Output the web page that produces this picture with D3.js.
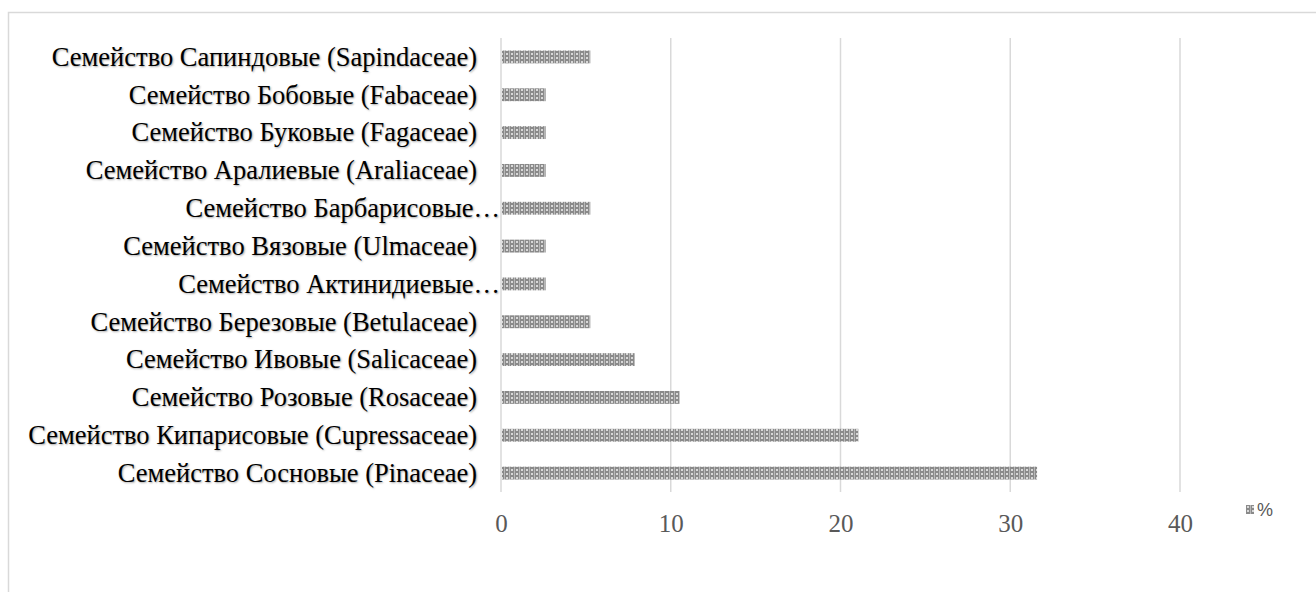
<!DOCTYPE html>
<html>
<head>
<meta charset="utf-8">
<script src="https://cdn.jsdelivr.net/npm/d3@7"></script>
<style>
  body { margin: 0; background: #fff; }
  .cat text { font-family: "Liberation Serif", "Times New Roman", serif; font-size: 26.5px; fill: #000;
              text-shadow: 1px 1px 2px rgba(0,0,0,0.35); }
  .xax text { font-family: "Liberation Serif", "Times New Roman", serif; font-size: 25px; fill: #595959; }
</style>
</head>
<body>
<svg class="grafico" width="1316" height="592"></svg>
<script>
// categorias de baixo para cima (como no Excel)
const categorias = [
  'Семейство Сосновые (Pinaceae)',
  'Семейство Кипарисовые (Cupressaceae)',
  'Семейство Розовые (Rosaceae)',
  'Семейство Ивовые (Salicaceae)',
  'Семейство Березовые (Betulaceae)',
  'Семейство Актинидиевые…',
  'Семейство Вязовые (Ulmaceae)',
  'Семейство Барбарисовые…',
  'Семейство Аралиевые (Araliaceae)',
  'Семейство Буковые (Fagaceae)',
  'Семейство Бобовые (Fabaceae)',
  'Семейство Сапиндовые (Sapindaceae)'
];
const valores = [31.58, 21.05, 10.53, 7.89, 5.26, 2.63, 2.63, 5.26, 2.63, 2.63, 2.63, 5.26];
const TICKS = [0, 10, 20, 30, 40];
const SERIE = '%';

const $svg = d3.select('.grafico');

const M = { left: 501, top: 38, right: 1180, bottom: 492 };

// moldura do gráfico
$svg.append('rect')
  .attr('x', 8.5).attr('y', 12.5)
  .attr('width', 1320).attr('height', 600)
  .attr('fill', 'none').attr('stroke', '#d9d9d9').attr('stroke-width', 1.5);

// padrão hachurado das barras
const defs = $svg.append('defs');
const pat = defs.append('pattern')
  .attr('id', 'xadrez').attr('patternUnits', 'userSpaceOnUse')
  .attr('width', 5).attr('height', 4);
pat.append('rect').attr('width', 5).attr('height', 4).attr('fill', '#8a8a8a');
pat.append('rect').attr('x', 1).attr('y', 1).attr('width', 2).attr('height', 2).attr('fill', '#d8d8d8');
pat.append('rect').attr('x', 4).attr('y', 0).attr('width', 1).attr('height', 4).attr('fill', '#b8b8b8');

const x = d3.scaleLinear().domain([0, 40]).range([M.left, M.right]);
const y = d3.scaleBand()
  .domain(categorias.slice().reverse())
  .range([M.top, M.bottom])
  .paddingInner(0.66).paddingOuter(0.33);

// linhas de grade
$svg.append('g')
  .selectAll('line')
  .data(TICKS)
  .join('line')
  .attr('x1', d => x(d)).attr('x2', d => x(d))
  .attr('y1', M.top).attr('y2', M.bottom)
  .attr('stroke', '#d9d9d9').attr('stroke-width', 1.5);

// barras
$svg.append('g')
  .selectAll('rect')
  .data(categorias.map((c, i) => ({ c, v: valores[i] })))
  .join('rect')
  .attr('x', x(0) + 1)
  .attr('y', d => y(d.c))
  .attr('width', d => x(d.v) - x(0) - 1)
  .attr('height', y.bandwidth())
  .attr('fill', 'url(#xadrez)');

// eixo das categorias
const gy = $svg.append('g').attr('class', 'cat')
  .attr('transform', `translate(${M.left},0)`)
  .call(d3.axisLeft(y).tickSize(0).tickPadding(24));
gy.select('.domain').remove();
gy.selectAll('text').attr('dy', '0.33em');
// rótulos cortados com reticências encostam na barra, como no original
gy.selectAll('text').filter(d => d.endsWith('…')).attr('x', -1);

// eixo x
const gx = $svg.append('g').attr('class', 'xax')
  .attr('transform', `translate(0,${M.bottom})`)
  .call(d3.axisBottom(x).tickValues(TICKS).tickSize(0).tickPadding(22));
gx.select('.domain').remove();

// legenda
const leg = $svg.append('g').attr('transform', 'translate(1246,505)');
leg.append('rect').attr('width', 8).attr('height', 9).attr('fill', 'url(#xadrez)');
leg.append('text')
  .attr('x', 11).attr('y', 11)
  .attr('font-family', 'Liberation Sans, Arial, sans-serif')
  .attr('font-size', 18).attr('fill', '#595959')
  .text(SERIE);
</script>
</body>
</html>
